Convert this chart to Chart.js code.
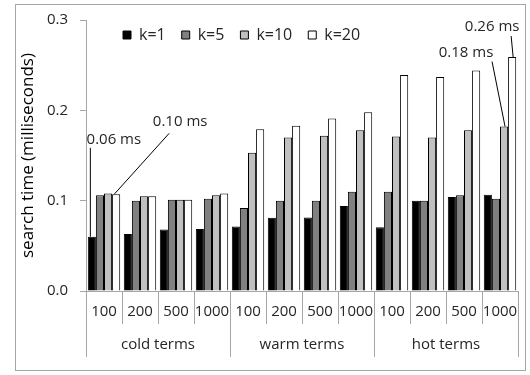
<!DOCTYPE html>
<html>
<head>
<meta charset="utf-8">
<script src="https://cdn.jsdelivr.net/npm/chart.js@4.4.1/dist/chart.umd.min.js"></script>
<style>
  html, body { margin: 0; padding: 0; background: #fff; }
</style>
</head>
<body>
<canvas id="chart" width="530" height="375"></canvas>
<script>
// categories: result-list size inside each term group
var sizes = ['100', '200', '500', '1000', '100', '200', '500', '1000', '100', '200', '500', '1000'];
var groups = ['cold terms', 'warm terms', 'hot terms'];
var seriesNames = ['k=1', 'k=5', 'k=10', 'k=20'];

// search time in milliseconds
var k1 = [0.060, 0.063, 0.068, 0.0685, 0.0715, 0.081, 0.0815, 0.094, 0.0705, 0.100, 0.104, 0.1065];
var k5 = [0.106, 0.100, 0.101, 0.102, 0.092, 0.100, 0.100, 0.110, 0.110, 0.100, 0.106, 0.102];
var k10 = [0.108, 0.105, 0.101, 0.106, 0.153, 0.170, 0.172, 0.178, 0.171, 0.170, 0.178, 0.182];
var k20 = [0.107, 0.105, 0.101, 0.108, 0.179, 0.183, 0.191, 0.198, 0.239, 0.237, 0.244, 0.259];

var yTicks = [0, 0.1, 0.2, 0.3];

// callouts: which bar they point at and their text
var notes = [
    { series: 0, index: 0, text: '0.06 ms' },
    { series: 3, index: 0, text: '0.10 ms' },
    { series: 2, index: 11, text: '0.18 ms' },
    { series: 3, index: 11, text: '0.26 ms' }
];

var fills = ['#000000', '#808080', '#c0c0c0', '#ffffff'];
var axisGray = '#a6a6a6';
var textColor = '#262626';

Chart.defaults.font.family = "'Open Sans', sans-serif";
Chart.defaults.color = textColor;

// offsets (px) of label centre and leader-line start from the bar top
var noteLayout = [
    { tx: 22, ty: -97, lx: -1.5, ly: -89, ex: -1.5 },
    { tx: 64, ty: -73, lx: 53, ly: -61, ex: -2 },
    { tx: -38, ty: -74, lx: -12, ly: -65, ex: 1 },
    { tx: -20, ty: -30, lx: -1, ly: -21, ex: 1 }
];

var framePlugin = {
    id: 'frame',
    beforeDraw: function (chart) {
        var ctx = chart.ctx;
        ctx.save();
        ctx.fillStyle = '#fff';
        ctx.fillRect(0, 0, chart.width, chart.height);
        ctx.strokeStyle = axisGray;
        ctx.lineWidth = 1;
        ctx.strokeRect(15.5, 4.5, 510, 366);
        ctx.restore();
    },
    beforeLayout: function (chart) {
        // lay the legend out in one row even though it sits in the plot
        chart.legend.isHorizontal = function () { return true; };
    },
    afterLayout: function (chart) {
        chart.legend.left = 107;
        chart.legend.top = 11;
    }
};

var notePlugin = {
    id: 'notes',
    afterDatasetsDraw: function (chart) {
        var ctx = chart.ctx;
        ctx.save();
        ctx.font = "15px 'Open Sans', sans-serif";
        ctx.fillStyle = textColor;
        ctx.strokeStyle = '#000';
        ctx.lineWidth = 1;
        ctx.textAlign = 'center';
        ctx.textBaseline = 'middle';
        notes.forEach(function (n, i) {
            var bar = chart.getDatasetMeta(n.series).data[n.index];
            var o = noteLayout[i];
            ctx.beginPath();
            ctx.moveTo(bar.x + o.lx, bar.y + o.ly);
            ctx.lineTo(bar.x + o.ex, bar.y);
            ctx.stroke();
            ctx.fillText(n.text, bar.x + o.tx, bar.y + o.ty);
        });
        ctx.restore();
    }
};

var ctx = document.getElementById('chart').getContext('2d');

var myChart = new Chart(ctx, {
    type: 'bar',
    data: {
        labels: sizes,
        datasets: [k1, k5, k10, k20].map(function (vals, i) {
            return {
                label: seriesNames[i],
                data: vals,
                backgroundColor: fills[i],
                borderColor: '#000',
                borderWidth: 1,
                categoryPercentage: 0.9,
                barPercentage: 1.0
            };
        })
    },
    options: {
        responsive: false,
        animation: false,
        layout: { padding: { left: 18, right: 12, top: 20, bottom: 21 } },
        plugins: {
            legend: {
                position: 'chartArea',
                align: 'start',
                labels: {
                    boxWidth: 8,
                    boxHeight: 8,
                    padding: 16,
                    font: { size: 16 },
                    color: textColor
                }
            },
            tooltip: { enabled: false }
        },
        scales: {
            x: {
                grid: {
                    offset: true,
                    drawOnChartArea: false,
                    tickLength: 33,
                    color: axisGray
                },
                border: { color: axisGray },
                ticks: { font: { size: 15 }, padding: -21, maxRotation: 0, autoSkip: false },
                afterFit: function (scale) { scale.height = 30; }
            },
            x2: {
                type: 'category',
                labels: groups,
                position: 'bottom',
                offset: true,
                grid: {
                    offset: true,
                    drawOnChartArea: false,
                    tickLength: 36,
                    color: axisGray
                },
                border: { display: false },
                ticks: { font: { size: 15 }, padding: -21, maxRotation: 0 },
                afterFit: function (scale) { scale.height = 33; }
            },
            y: {
                min: 0,
                max: 0.3,
                afterBuildTicks: function (scale) {
                    scale.ticks = yTicks.map(function (v) { return { value: v }; });
                },
                afterFit: function (scale) {
                    scale.width = 68;
                    scale.paddingTop = 0;
                    scale.paddingBottom = 0;
                },
                grid: {
                    drawOnChartArea: false,
                    tickLength: 6,
                    color: axisGray
                },
                border: { color: axisGray },
                ticks: {
                    font: { size: 15 },
                    padding: 12,
                    callback: function (v) { return Number(v).toFixed(1); }
                },
                title: {
                    display: true,
                    text: 'search time (milliseconds)',
                    font: { size: 17 },
                    color: '#000',
                    padding: { top: 0, bottom: 0 }
                }
            }
        }
    },
    plugins: [framePlugin, notePlugin]
});
</script>
</body>
</html>
